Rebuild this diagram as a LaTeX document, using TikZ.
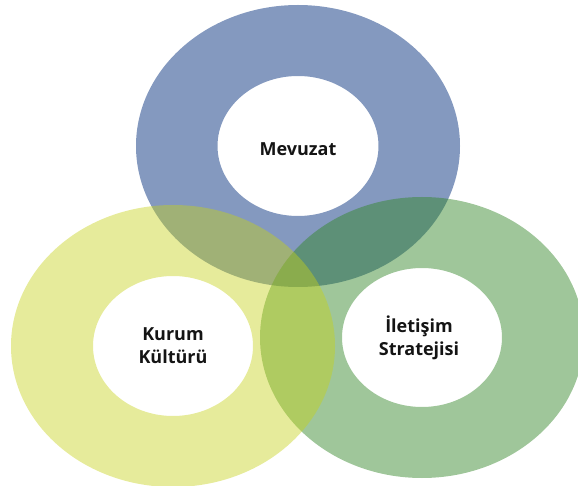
\documentclass[tikz,border=0pt]{standalone}
\usepackage{fontspec}
\setmainfont{Open Sans}
\usepackage{tikz}

\definecolor{mevblue}{RGB}{132,153,191}
\definecolor{iletgreen}{RGB}{51,134,40}
\definecolor{kuryellow}{RGB}{198,209,23}

\begin{document}
\begin{tikzpicture}[x=1pt,y=-1pt,
  ring/.style={even odd rule},
  ringtext/.style={font=\bfseries\fontsize{18}{23}\selectfont, align=center, text=black!92}]

  \useasboundingbox (0,0) rectangle (578,486);
  \clip (0,0) rectangle (578,486);

  \coordinate (mev) at (298,146);
  \coordinate (kur) at (173,346);
  \coordinate (ilet) at (422,337.5);

  % blue ring at the bottom, green over it, yellow on top
  \fill[ring, mevblue] (mev) ellipse [x radius=162, y radius=141]
    (mev) ellipse [x radius=80.5, y radius=70];
  \fill[ring, iletgreen, fill opacity=0.47] (ilet) ellipse [x radius=162, y radius=140.5]
    (ilet) ellipse [x radius=80, y radius=69.5];
  \fill[ring, kuryellow, fill opacity=0.43] (kur) ellipse [x radius=162, y radius=141]
    (kur) ellipse [x radius=80, y radius=70];

  \node[ringtext] (mevtext) at ([yshift=-3pt]mev) {Mevuzat};
  \node[ringtext] (kurtext) at (kur) {Kurum\\Kültürü};
  \node[ringtext] (ilettext) at ([xshift=-3pt]ilet) {İletişim\\Stratejisi};

\end{tikzpicture}
\end{document}
